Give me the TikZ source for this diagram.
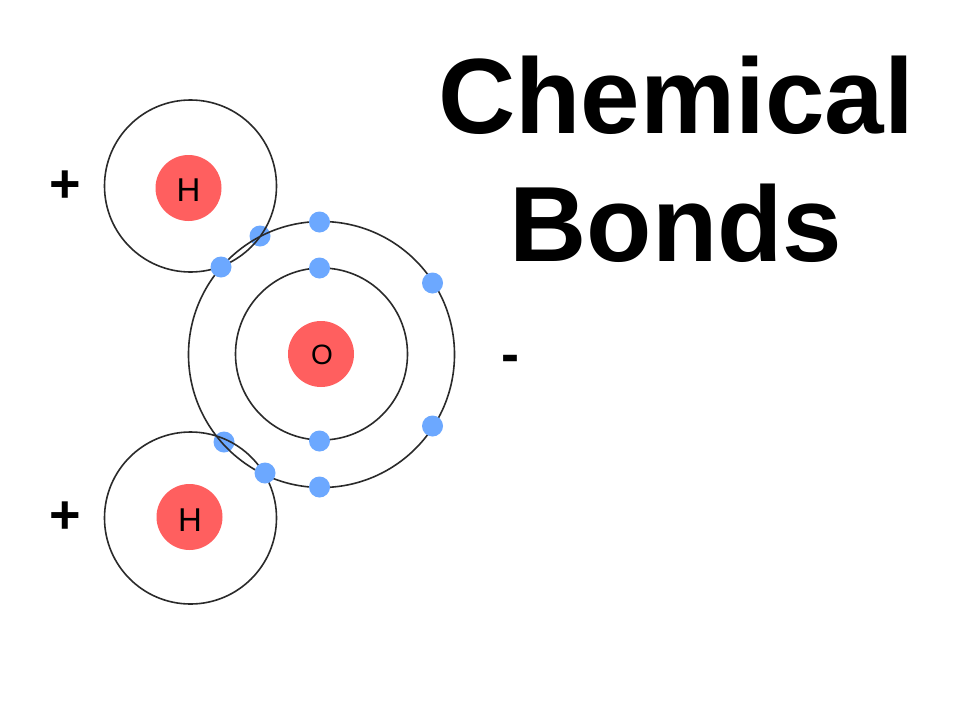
\documentclass[tikz,border=0pt]{standalone}
\usepackage{fontspec}
\setmainfont{Liberation Sans}
\definecolor{nucred}{HTML}{FF5F5F}
\definecolor{elecblue}{HTML}{6CA8FF}
\definecolor{shellline}{HTML}{2A2A2A}
\tikzset{
  x=1pt,y=-1pt,
  shell/.style={circle,draw=shellline,line width=1.6pt,inner sep=0pt,fill=none},
  nucleus/.style={circle,fill=nucred,inner sep=0pt,minimum size=66pt},
  electron/.style={circle,fill=elecblue,inner sep=0pt,minimum size=21pt},
  atomlabel/.style={inner sep=0pt,text=black,font=\fontsize{33}{33}\selectfont},
  oxylabel/.style={inner sep=0pt,text=black,font=\fontsize{28}{28}\selectfont},
  charge/.style={inner sep=0pt,text=black,font=\fontsize{54}{54}\selectfont\bfseries},
  titletext/.style={anchor=base,inner sep=0pt,text=black,font=\fontsize{107}{107}\selectfont\bfseries}
}
\begin{document}
\begin{tikzpicture}
\useasboundingbox[fill=white] (0,0) rectangle (960,720);
% electrons lying under the shell lines
\node[electron] (e1) at (260,236) {};
\node[electron] (e2) at (224,442) {};
% shells
\node[shell,minimum size=172pt] (h1shell) at (190.5,186) {};
\node[shell,minimum size=172pt] (h2shell) at (190.5,518) {};
\node[shell,minimum size=266pt] (oouter) at (321.5,354.5) {};
\node[shell,minimum size=172pt] (oinner) at (321.5,354) {};
% nuclei
\node[nucleus] (h1) at (188.5,188) {};
\node[nucleus] (h2) at (189.5,517) {};
\node[nucleus] (o) at (321,354) {};
\node[atomlabel] (h1t) at (188.5,190) {H};
\node[atomlabel] (h2t) at (190,520) {H};
\node[oxylabel] (ot) at (322,355) {O};
% electrons over the shell lines
\node[electron] (e3) at (221,267) {};
\node[electron] (e4) at (319.5,222) {};
\node[electron] (e5) at (319.5,268) {};
\node[electron] (e6) at (432.5,283) {};
\node[electron] (e7) at (432.5,426) {};
\node[electron] (e8) at (319.5,441) {};
\node[electron] (e9) at (319.5,487) {};
\node[electron] (e10) at (265,473) {};
% charges
\node[charge] (p1) at (65.5,187) {+};
\node[charge] (p2) at (65.5,518) {+};
\node[charge] (m) at (510,364) {-};
% title
\node[titletext] (t1) at (676,133) {Chemical};
\node[titletext] (t2) at (676,261) {Bonds};
\end{tikzpicture}
\end{document}
